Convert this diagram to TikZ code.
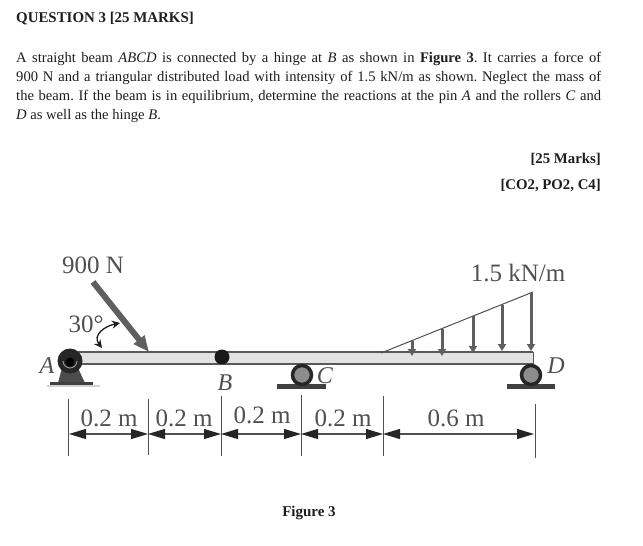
\documentclass[tikz,border=0pt]{standalone}
\usepackage{fontspec}
\setmainfont{Liberation Serif}
\usetikzlibrary{arrows.meta}
\definecolor{ink}{HTML}{1E1E1E}
\definecolor{lab}{HTML}{505050}
\definecolor{beamfill}{HTML}{E2E2E2}
\definecolor{steel}{HTML}{5F5F5F}
\tikzset{
 x=1pt,y=-1pt,
 para/.style={anchor=base west,inner sep=0pt,text=ink,font=\fontsize{14.6}{16}\selectfont},
 rlab/.style={anchor=base east,inner sep=0pt,text=ink,font=\fontsize{14.8}{16}\selectfont\bfseries},
 dlab/.style={inner sep=0pt,text=lab,font=\fontsize{25}{28}\selectfont},
 ltr/.style={inner sep=0pt,text=lab,font=\fontsize{24}{28}\selectfont\itshape},
 ext/.style={draw=lab,line width=1pt},
 dim/.style={draw=lab,line width=1.2pt,{Triangle[length=17pt,width=10pt,color=black!85]}-{Triangle[length=17pt,width=10pt,color=black!85]}},
 loadarrow/.style={draw=steel,line width=3pt,-{Triangle[length=7pt,width=8pt]}},
 plate/.style={fill=black!75,draw=none},
 roller/.style={circle,draw=black!85,line width=3.5pt,fill=black!45,minimum size=19pt,inner sep=0pt},
}
\newcommand{\jline}[1]{\makebox[585pt][s]{#1}}
\begin{document}
\begin{tikzpicture}
\frenchspacing
\useasboundingbox (0,0) rectangle (643,546);
\fill[white] (0,0) rectangle (643,546);
% text
\node[para,font=\fontsize{14.9}{16}\selectfont\bfseries] (title) at (16,22) {QUESTION 3 [25 MARKS]};
\node[para] (l1) at (16,62) {\jline{A straight beam \textit{ABCD} is connected by a hinge at \textit{B} as shown in \textbf{Figure 3}. It carries a force of}};
\node[para] (l2) at (16,81) {\jline{900 N and a triangular distributed load with intensity of 1.5 kN/m as shown. Neglect the mass of}};
\node[para] (l3) at (16,100) {\jline{the beam. If the beam is in equilibrium, determine the reactions at the pin \textit{A} and the rollers \textit{C} and}};
\node[para] (l4) at (16,119) {\textit{D} as well as the hinge \textit{B}.};
\node[rlab] (m1) at (601,163) {[25 Marks]};
\node[rlab] (m2) at (601,189) {[CO2, PO2, C4]};
\node[rlab,anchor=base,font=\fontsize{15}{16}\selectfont\bfseries] (fig) at (309,516) {Figure 3};
% beam
\fill[beamfill] (70,352) rectangle (533,364);
\draw[black!65,line width=1.4pt] (70,352) -- (533,352);
\draw[black!65,line width=1.8pt] (70,364) -- (533,364);
\draw[black!65,line width=.8pt] (533,352) -- (533,364);
% support A
\fill[black!18] (47,385) rectangle (100,387);
\fill[black!70] (58,383) -- (62,368) -- (78,368) -- (85,383) -- cycle;
\fill[plate] (50,382) rectangle (93,385);
\node[circle,fill=black!85,minimum size=25pt,inner sep=0pt] (pinA) at (70,361) {};
\draw[black!35,line width=.8pt] (63,361) arc[start angle=180,end angle=0,radius=7];
\fill[black] (70,362) circle (4.5);
% hinge B
\node[circle,fill=black!90,minimum size=15pt,inner sep=0pt] (hingeB) at (222,357) {};
% roller C, D
\fill[plate] (277,384) rectangle (326,389);
\node[roller] (rollC) at (302,375) {};
\fill[plate] (507,384) rectangle (555,389);
\node[roller] (rollD) at (531,375) {};
% letters
\node[ltr] (A) at (47,366) {A};
\node[ltr] (B) at (225,383) {B};
\node[ltr] (C) at (325,376) {C};
\node[ltr] (D) at (556,366) {D};
% force
\coordinate (f0) at (93,282);
\coordinate (f1) at (149,352);
\draw[draw=steel,line width=6pt,-{Triangle[length=16pt,width=13pt]}] (f0) -- (f1);
\node[dlab] (F) at (93,265) {900 N};
% angle
\coordinate (a0) at (102,348);
\coordinate (a1) at (120,323);
\draw[draw=ink,line width=1.3pt,{Stealth[length=8pt,width=8pt]}-{Stealth[length=8pt,width=8pt]}] (a0) .. controls (92,335) and (105,326) .. (a1);
\node[dlab] (ang) at (86,324) {30°};
% distributed load
\coordinate (t0) at (381,353);
\coordinate (t1) at (533,292);
\draw[draw=lab,line width=1pt] (t0) -- (t1);
\coordinate (q1t) at (412,340.5); \coordinate (q1b) at (412,356);
\coordinate (q2t) at (442,328.5); \coordinate (q2b) at (442,356);
\coordinate (q3t) at (473,316);   \coordinate (q3b) at (473,353);
\coordinate (q4t) at (502,304.5); \coordinate (q4b) at (502,351);
\coordinate (q5t) at (531,293);   \coordinate (q5b) at (531,351);
\foreach \q in {1,...,5} \draw[loadarrow] (q\q t) -- (q\q b);
\node[dlab] (q) at (518,273) {1.5 kN/m};
% dimensions
\coordinate (d1t) at (68,399);  \coordinate (d1b) at (68,456);
\coordinate (d2t) at (148,399); \coordinate (d2b) at (148,455);
\coordinate (d3t) at (221,396); \coordinate (d3b) at (221,456);
\coordinate (d4t) at (301,395); \coordinate (d4b) at (301,456);
\coordinate (d5t) at (383,396); \coordinate (d5b) at (383,456);
\coordinate (d6t) at (535,404); \coordinate (d6b) at (535,458);
\foreach \d in {1,...,6} \draw[ext] (d\d t) -- (d\d b);
\coordinate (e1) at (69,434);  \coordinate (e2) at (148,434);
\coordinate (e3) at (221,434); \coordinate (e4) at (301,434);
\coordinate (e5) at (383,434); \coordinate (e6) at (534,434);
\draw[dim] (e1) -- (e2);
\draw[dim] (e2) -- (e3);
\draw[dim] (e3) -- (e4);
\draw[dim] (e4) -- (e5);
\draw[dim] (e5) -- (e6);
\node[dlab] (t1l) at (109,418) {0.2 m};
\node[dlab] (t2l) at (184,418) {0.2 m};
\node[dlab] (t3l) at (262,415) {0.2 m};
\node[dlab] (t4l) at (343,418) {0.2 m};
\node[dlab] (t5l) at (456,418) {0.6 m};
\end{tikzpicture}
\end{document}
